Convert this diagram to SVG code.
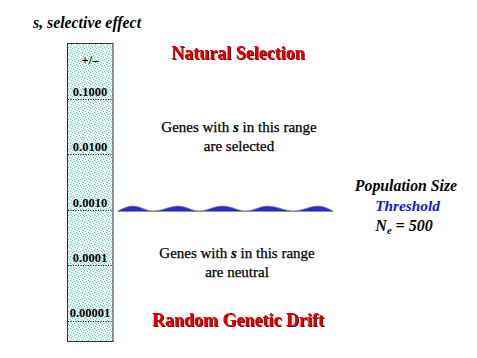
<svg xmlns="http://www.w3.org/2000/svg" width="477" height="358" viewBox="0 0 477 358">
<defs>
<pattern id="dots" x="0" y="0" width="6" height="6" patternUnits="userSpaceOnUse">
<rect width="6" height="6" fill="#e6f7f4"/>
<rect x="0" y="0" width="1" height="1" fill="#4fd2c2"/>
<rect x="3" y="1" width="1" height="1" fill="#4fd2c2"/>
<rect x="1" y="3" width="1" height="1" fill="#4fd2c2"/>
<rect x="4" y="4" width="1" height="1" fill="#4fd2c2"/>
<rect x="5" y="2" width="1" height="1" fill="#9aaeab"/>
<rect x="2" y="5" width="1" height="1" fill="#9aaeab"/>
<rect x="2" y="2" width="1" height="1" fill="#ffffff"/>
<rect x="5" y="5" width="1" height="1" fill="#8fe0d5"/>
</pattern>
<filter id="shadow" x="-5%" y="-20%" width="110%" height="140%">
<feOffset dx="1" dy="1" in="SourceAlpha" result="o"/>
<feFlood flood-color="#700000"/>
<feComposite in2="o" operator="in" result="s"/>
<feMerge><feMergeNode in="s"/><feMergeNode in="SourceGraphic"/></feMerge>
</filter>
</defs>
<style>
text{font-family:"Liberation Serif",serif}
.lbl{font-weight:bold;font-size:12.5px;fill:#000;text-anchor:middle}
.body{font-size:15px;fill:#000;stroke:#000;stroke-width:0.25;text-anchor:middle}
.red{font-weight:bold;font-size:18px;fill:#e00000;text-anchor:middle}
.bi{font-weight:bold;font-style:italic;text-anchor:middle}
.dot{stroke:#000;stroke-width:1;stroke-dasharray:1 1.5;fill:none}
</style>

<g id="axis-title">
<text x="33" y="28" font-weight="bold" font-style="italic" font-size="15.8">s, selective effect</text>
</g>

<g id="scale">
<rect x="67.5" y="43.5" width="45.5" height="298" fill="url(#dots)" stroke="#333" stroke-width="1"/>
<text class="lbl" x="90" y="64" font-size="14">+/–</text>
<text class="lbl" x="90" y="96">0.1000</text>
<line class="dot" x1="68" y1="99.5" x2="113" y2="99.5"/>
<text class="lbl" x="90" y="151">0.0100</text>
<line class="dot" x1="68" y1="154.5" x2="113" y2="154.5"/>
<text class="lbl" x="90" y="207">0.0010</text>
<line class="dot" x1="68" y1="210.5" x2="113" y2="210.5"/>
<text class="lbl" x="90" y="262">0.0001</text>
<line class="dot" x1="68" y1="265.5" x2="113" y2="265.5"/>
<text class="lbl" x="90" y="317">0.00001</text>
<line class="dot" x1="68" y1="321.5" x2="113" y2="321.5"/>
</g>

<g id="natural-selection">
<text class="red" x="238" y="59" filter="url(#shadow)">Natural Selection</text>
</g>

<g id="selected-text">
<text class="body" x="239" y="132">Genes with <tspan font-style="italic" font-weight="bold">s</tspan> in this range</text>
<text class="body" x="239" y="151">are selected</text>
</g>

<g id="threshold-wave">
<path d="M118,210.8 C124,208 128,206 133,206 C140,206 146,211 153,211 C162,211 170,206 178,206 C186,206 192,211 199,211 C207,211 214,206 222,206 C232,206 238,211 245,211 C254,211 260,206 267,206 C277,206 285,211 293,211 C302,211 310,206 318,206 C324,206 329,209 333,211 L333,211.5 L118,211.5 Z" fill="#2a2ac8" stroke="#8a8a9a" stroke-width="0.8"/>
</g>

<g id="threshold-label">
<text class="bi" x="406" y="191" font-size="15.8">Population Size</text>
<text class="bi" x="407.5" y="211" font-size="15.3" fill="#1414d0">Threshold</text>
<text class="bi" x="404" y="231" font-size="16">N<tspan font-size="10.5" dy="3">e</tspan><tspan dy="-3"> = 500</tspan></text>
</g>

<g id="neutral-text">
<text class="body" x="237" y="258">Genes with <tspan font-style="italic" font-weight="bold">s</tspan> in this range</text>
<text class="body" x="237" y="277">are neutral</text>
</g>

<g id="random-drift">
<text class="red" x="238" y="326" filter="url(#shadow)">Random Genetic Drift</text>
</g>
</svg>
